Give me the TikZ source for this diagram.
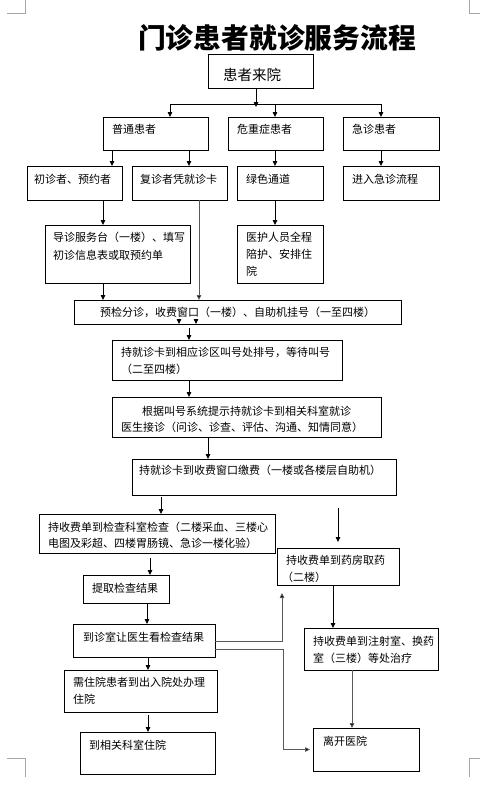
\documentclass[tikz,border=0pt]{standalone}
\usepackage{fontspec}
\setmainfont{Noto Sans CJK SC}
\usetikzlibrary{arrows.meta,calc}
\newcommand\mkbox[5]{\node[box,minimum width={(#4-#2)*1pt},minimum height={(#5-#3)*1pt}] (#1) at ({(#2+#4)/2},{(#3+#5)/2}) {};}
\begin{document}
\begin{tikzpicture}[x=1pt,y=-1pt,
 box/.style={draw,line width=0.8pt,inner sep=0pt,outer sep=0pt},
 txt/.style={anchor=west,inner sep=0pt,font=\fontsize{11}{13}\selectfont},
 arr/.style={-{Triangle[length=5pt,width=4.5pt]},line width=0.8pt},
 garr/.style={arr,draw=black!65,-{Triangle[length=5pt,width=4.5pt,fill=black]}},
 ln/.style={line width=0.8pt},
 crn/.style={draw=gray!70,line width=0.8pt}]
\useasboundingbox (0,0) rectangle (480,790);
% corner marks
\draw[crn] (7,13) -- (25,13) -- (25,0);
\draw[crn] (469,0) -- (469,13) -- (480,13);
\draw[crn] (7,758) -- (25,758) -- (25,777);
\draw[crn] (480,758) -- (469,758) -- (469,777);
% title
\node[font=\fontsize{27.8}{30}\selectfont\bfseries,inner sep=0pt] (title) at (277,38) {门诊患者就诊服务流程};
% boxes
\mkbox{b1}{208}{54}{313}{88}
\mkbox{b2}{103}{117}{208}{150}
\mkbox{b3}{228}{117}{323}{150}
\mkbox{b4}{343}{117}{439}{150}
\mkbox{b5}{27}{166}{122}{200}
\mkbox{b6}{132}{166}{227}{200}
\mkbox{b7}{237}{166}{323}{200}
\mkbox{b8}{343}{166}{439}{200}
\mkbox{b9}{45}{225}{190}{283}
\mkbox{b10}{237}{225}{323}{283}
\mkbox{b11}{74}{300}{401}{324}
\mkbox{b12}{112}{340}{342}{380}
\mkbox{b13}{112}{397}{381}{437}
\mkbox{b14}{132}{459}{396}{495}
\mkbox{b15}{39}{514}{275}{553}
\mkbox{b16}{277}{548}{399}{585}
\mkbox{b17}{83}{575}{169}{603}
\mkbox{b18}{73}{624}{215}{657}
\mkbox{b19}{64}{670}{217}{712}
\mkbox{b20}{80}{732}{215}{774}
\mkbox{b21}{313}{728}{419}{771}
\mkbox{b22}{304}{628}{438}{670}
% texts
\node[txt,font=\fontsize{14.5}{16}\selectfont] (t1) at (223,75) {患者来院};
\node[txt] (t2) at (112,129) {普通患者};
\node[txt] (t3) at (237,129) {危重症患者};
\node[txt] (t4) at (352,129) {急诊患者};
\node[txt] (t5) at (34,179) {初诊者、预约者};
\node[txt] (t6) at (140,179) {复诊者凭就诊卡};
\node[txt] (t7) at (246,179) {绿色通道};
\node[txt] (t8) at (352,179) {进入急诊流程};
\node[txt] (t9a) at (53,237) {导诊服务台（一楼）、填写};
\node[txt] (t9b) at (53,255) {初诊信息表或取预约单};
\node[txt] (t10a) at (246,237) {医护人员全程};
\node[txt] (t10b) at (246,254) {陪护、安排住};
\node[txt] (t10c) at (246,271) {院};
\node[txt] (t11) at (100,312) {预检分诊，收费窗口（一楼）、自助机挂号（一至四楼）};
\node[txt] (t12a) at (121,352) {持就诊卡到相应诊区叫号处排号，等待叫号};
\node[txt] (t12b) at (121,369) {（二至四楼）};
\node[txt] (t13a) at (142,411) {根据叫号系统提示持就诊卡到相关科室就诊};
\node[txt] (t13b) at (121,427) {医生接诊（问诊、诊查、评估、沟通、知情同意）};
\node[txt] (t14) at (139,470) {持就诊卡到收费窗口缴费（一楼或各楼层自助机）};
\node[txt] (t15a) at (48,527) {持收费单到检查科室检查（二楼采血、三楼心};
\node[txt] (t15b) at (48,543) {电图及彩超、四楼胃肠镜、急诊一楼化验）};
\node[txt] (t16a) at (286,560) {持收费单到药房取药};
\node[txt] (t16b) at (282,577) {（二楼）};
\node[txt] (t17) at (92,588) {提取检查结果};
\node[txt] (t18) at (83,637) {到诊室让医生看检查结果};
\node[txt] (t19a) at (73,682) {需住院患者到出入院处办理};
\node[txt] (t19b) at (73,699) {住院};
\node[txt] (t20) at (89,745) {到相关科室住院};
\node[txt] (t22a) at (313,641) {持收费单到注射室、换药};
\node[txt] (t22b) at (313,658) {室（三楼）等处治疗};
\node[txt] (t21) at (323,741) {离开医院};
% connectors
\coordinate (bus) at (256,104);
\coordinate (busend) at (256,107);
\draw[arr] (b1.south -| 256,0) -- (busend);
\draw[ln] (bus -| 170,0) -- (bus -| 381,0);
\draw[arr] (bus -| 170,0) -- (b2.north -| 170,0);
\draw[arr] (bus -| 275,0) -- (b3.north -| 275,0);
\draw[arr] (bus -| 381,0) -- (b4.north -| 381,0);
\draw[arr] (b2.south -| 112,0) -- (b5.north -| 112,0);
\draw[arr] (b2.south -| 189,0) -- (b6.north -| 189,0);
\draw[arr] (b3.south -| 275,0) -- (b7.north -| 275,0);
\draw[arr] (b4.south -| 381,0) -- (b8.north -| 381,0);
\draw[arr] (b5.south -| 103,0) -- (b9.north -| 103,0);
\draw[garr] (b6.south -| 199,0) -- (b11.north -| 199,0);
\draw[arr] (b7.south -| 275,0) -- (b10.north -| 275,0);
\draw[arr] (b9.south -| 103,0) -- (b11.north -| 103,0);
\draw[arr] ($(b11.south -| 179,0)+(0,-5.5)$) -- (b11.south -| 179,0);
\draw[arr] ($(b11.south -| 196,0)+(0,-5.5)$) -- (b11.south -| 196,0);
\draw[arr] ($(b11.south -| 189,0)+(0,4)$) -- (b12.north -| 189,0);
\draw[arr] (b12.south -| 189,0) -- (b13.north -| 189,0);
\draw[arr] (b13.south -| 208,0) -- (b14.north -| 208,0);
\draw[arr] ($(b14.south -| 161,0)+(0,2)$) -- (b15.north -| 161,0);
\draw[arr] ($(b14.south -| 338,0)+(0,13)$) -- ($(b16.north -| 338,0)+(0,-6)$);
\draw[arr] ($(b15.south -| 150,0)+(0,5)$) -- (b17.north -| 150,0);
\draw[arr] (b17.south -| 147,0) -- (b18.north -| 147,0);
\draw[garr] (b18.east |- 0,641) -| ($(b16.south -| 282,0)+(0,8)$);
\draw[garr] (b18.east |- 0,649) -| ($(b21.west)+(-30,0)$) -- ($(b21.west)+(-3,0)$);
\draw[arr] (b18.south -| 148,0) -- (b19.north -| 148,0);
\draw[arr] ($(b19.south -| 148,0)+(0,3)$) -- (b20.north -| 148,0);
\draw[arr] (b16.south -| 333,0) -- (b22.north -| 333,0);
\draw[garr] (b22.south -| 352,0) -- (b21.north -| 352,0);
\end{tikzpicture}
\end{document}
